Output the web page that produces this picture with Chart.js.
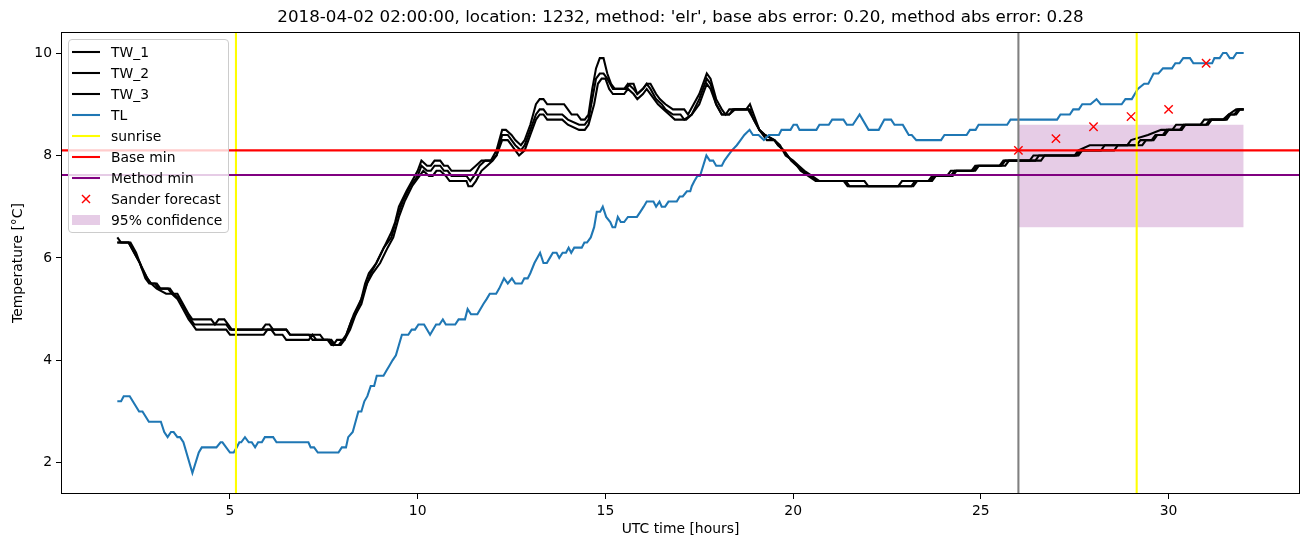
<!DOCTYPE html>
<html><head><meta charset="utf-8">
<script src="https://cdn.jsdelivr.net/npm/chart.js@4"></script>
<style>
html,body{margin:0;padding:0;background:#fff;}
#wrap{position:relative;width:1310px;height:547px;}
canvas{display:block;}
#legend{position:absolute;left:68px;top:39px;width:159px;padding:1px 0 2px 0;background:rgba(255,255,255,0.8);border:1px solid #cccccc;border-radius:4px;font-family:"DejaVu Sans";font-size:13.9px;color:#000;}
.item{height:21px;display:flex;align-items:center;white-space:nowrap;}
.item svg{margin-left:3px;margin-right:11px;flex:none;}
</style>
</head><body>
<div id="wrap">
<canvas id="c" width="1310" height="547"></canvas>
<div id="legend"></div>
</div>
<script>
const titleText = "2018-04-02 02:00:00, location: 1232, method: 'elr', base abs error: 0.20, method abs error: 0.28";
const xTicks = [5, 10, 15, 20, 25, 30];
const yTicks = [2, 4, 6, 8, 10];

const tw1 = [[2.0,6.4],[2.1,6.3],[2.3,6.3],[2.45,6.1],[2.6,5.9],[2.75,5.6],[2.85,5.5],[3.0,5.5],[3.1,5.4],[3.35,5.4],[3.45,5.3],[3.6,5.3],[3.75,5.1],[3.9,4.9],[4.0,4.8],[4.5,4.8],[4.6,4.7],[4.7,4.8],[4.85,4.8],[4.95,4.7],[5.05,4.6],[5.85,4.6],[5.95,4.7],[6.05,4.7],[6.15,4.6],[6.5,4.6],[6.6,4.5],[7.4,4.5],[7.5,4.4],[7.7,4.4],[7.8,4.3],[7.9,4.3],[8.0,4.4],[8.1,4.5],[8.25,4.8],[8.35,4.9],[8.5,5.2],[8.6,5.4],[8.75,5.7],[8.9,5.9],[9.1,6.2],[9.3,6.5],[9.4,6.7],[9.5,7.0],[9.7,7.3],[9.85,7.5],[10.0,7.7],[10.1,7.9],[10.25,7.8],[10.35,7.8],[10.45,7.9],[10.6,7.9],[10.7,7.8],[10.8,7.8],[10.9,7.7],[11.4,7.7],[11.55,7.8],[11.7,7.9],[11.95,7.9],[12.1,8.1],[12.25,8.5],[12.35,8.5],[12.5,8.4],[12.6,8.3],[12.75,8.2],[12.85,8.3],[13.0,8.6],[13.15,9.0],[13.25,9.1],[13.35,9.1],[13.45,9.0],[13.9,9.0],[14.0,8.9],[14.1,8.8],[14.25,8.8],[14.35,8.7],[14.45,8.7],[14.55,8.8],[14.65,9.3],[14.75,9.7],[14.85,9.9],[14.95,9.9],[15.05,9.6],[15.15,9.4],[15.25,9.3],[15.55,9.3],[15.65,9.4],[15.75,9.4],[15.85,9.2],[16.0,9.3],[16.1,9.4],[16.2,9.4],[16.35,9.2],[16.45,9.1],[16.6,9.0],[16.8,8.9],[17.1,8.9],[17.2,8.8],[17.35,9.0],[17.5,9.2],[17.6,9.4],[17.7,9.6],[17.8,9.5],[17.95,9.1],[18.1,8.9],[18.2,8.8],[18.3,8.9],[18.75,8.9],[18.85,9.0],[18.95,8.8],[19.1,8.5],[19.25,8.4],[19.5,8.3],[19.6,8.2],[19.75,8.1],[19.95,7.9],[20.1,7.8],[20.2,7.7],[20.4,7.6],[20.6,7.5],[21.35,7.5],[21.45,7.4],[22.8,7.4],[22.9,7.5],[23.6,7.5],[23.7,7.6],[24.1,7.6],[24.2,7.7],[24.75,7.7],[24.85,7.8],[25.5,7.8],[25.6,7.9],[26.3,7.9],[26.4,8.0],[27.5,8.0],[27.6,8.1],[27.9,8.2],[28.9,8.2],[29.0,8.3],[29.45,8.4],[29.8,8.5],[30.1,8.5],[30.2,8.6],[30.85,8.6],[30.95,8.7],[31.45,8.7],[31.6,8.8],[31.8,8.9],[32.0,8.9]];

const tw2 = [[2.0,6.3],[2.3,6.3],[2.45,6.1],[2.6,5.9],[2.8,5.6],[2.9,5.5],[3.05,5.5],[3.15,5.4],[3.4,5.4],[3.5,5.3],[3.65,5.2],[3.8,5.0],[3.95,4.8],[4.05,4.7],[4.9,4.7],[5.0,4.6],[6.5,4.6],[6.6,4.5],[7.1,4.5],[7.2,4.4],[7.65,4.4],[7.75,4.3],[7.85,4.4],[8.05,4.4],[8.15,4.6],[8.3,4.9],[8.5,5.2],[8.6,5.5],[8.7,5.7],[8.9,5.9],[9.1,6.2],[9.3,6.4],[9.45,6.8],[9.6,7.1],[9.8,7.4],[10.0,7.6],[10.1,7.8],[10.25,7.7],[10.35,7.7],[10.45,7.8],[10.6,7.8],[10.7,7.7],[10.8,7.7],[10.9,7.6],[11.3,7.6],[11.4,7.5],[11.5,7.6],[11.65,7.8],[11.8,7.9],[11.95,7.9],[12.1,8.0],[12.25,8.4],[12.4,8.4],[12.5,8.3],[12.6,8.2],[12.75,8.1],[12.85,8.2],[13.0,8.5],[13.15,8.8],[13.25,8.9],[13.35,8.9],[13.45,8.8],[13.85,8.8],[14.0,8.7],[14.3,8.6],[14.45,8.6],[14.55,8.7],[14.65,9.1],[14.75,9.5],[14.85,9.6],[14.95,9.6],[15.05,9.5],[15.2,9.3],[15.5,9.3],[15.6,9.4],[15.75,9.3],[15.85,9.2],[16.0,9.3],[16.1,9.4],[16.2,9.3],[16.35,9.1],[16.5,9.0],[16.6,8.9],[16.8,8.8],[17.0,8.8],[17.1,8.7],[17.3,8.8],[17.5,9.1],[17.6,9.3],[17.7,9.5],[17.8,9.4],[17.95,9.0],[18.1,8.8],[18.3,8.8],[18.4,8.9],[18.85,8.9],[18.95,8.7],[19.1,8.5],[19.25,8.4],[19.5,8.3],[19.6,8.2],[19.75,8.1],[19.95,7.9],[20.1,7.8],[20.25,7.7],[20.45,7.6],[20.65,7.5],[21.4,7.5],[21.5,7.4],[23.15,7.4],[23.25,7.5],[23.65,7.5],[23.75,7.6],[24.2,7.6],[24.3,7.7],[24.8,7.7],[24.9,7.8],[25.55,7.8],[25.65,7.9],[26.45,7.9],[26.55,8.0],[27.55,8.0],[27.65,8.1],[28.2,8.1],[28.3,8.2],[29.15,8.2],[29.25,8.3],[29.55,8.3],[29.65,8.4],[29.85,8.4],[29.95,8.5],[30.3,8.5],[30.4,8.6],[31.0,8.6],[31.1,8.7],[31.5,8.7],[31.6,8.8],[31.75,8.8],[31.85,8.9],[32.0,8.9]];

const tw3 = [[2.0,6.3],[2.35,6.3],[2.5,6.1],[2.65,5.8],[2.8,5.6],[2.9,5.5],[3.05,5.4],[3.3,5.3],[3.45,5.3],[3.6,5.2],[3.75,5.0],[3.9,4.8],[4.0,4.7],[4.1,4.6],[4.9,4.6],[5.0,4.5],[5.9,4.5],[6.0,4.6],[6.1,4.6],[6.2,4.5],[6.4,4.5],[6.5,4.4],[7.1,4.4],[7.2,4.5],[7.3,4.4],[7.6,4.4],[7.7,4.3],[7.95,4.3],[8.05,4.4],[8.2,4.6],[8.35,4.9],[8.5,5.1],[8.65,5.5],[8.8,5.7],[9.0,5.9],[9.2,6.2],[9.35,6.4],[9.5,6.8],[9.65,7.1],[9.85,7.4],[10.05,7.6],[10.15,7.7],[10.3,7.6],[10.4,7.6],[10.5,7.7],[10.6,7.7],[10.75,7.6],[10.85,7.5],[11.3,7.5],[11.35,7.4],[11.45,7.4],[11.55,7.5],[11.7,7.7],[11.85,7.8],[12.0,7.9],[12.1,8.0],[12.25,8.3],[12.4,8.3],[12.5,8.2],[12.6,8.1],[12.7,8.0],[12.85,8.1],[13.0,8.4],[13.15,8.7],[13.25,8.8],[13.35,8.8],[13.45,8.7],[13.85,8.7],[14.0,8.6],[14.3,8.5],[14.45,8.5],[14.55,8.6],[14.7,9.0],[14.8,9.4],[14.9,9.5],[15.0,9.5],[15.1,9.3],[15.2,9.2],[15.5,9.2],[15.6,9.3],[15.75,9.2],[15.85,9.1],[16.0,9.2],[16.1,9.3],[16.2,9.2],[16.4,9.0],[16.55,8.9],[16.7,8.8],[16.85,8.7],[17.15,8.7],[17.3,8.8],[17.5,9.0],[17.6,9.2],[17.7,9.4],[17.8,9.3],[17.95,9.0],[18.1,8.8],[18.3,8.8],[18.45,8.9],[18.8,8.9],[18.95,8.7],[19.1,8.5],[19.3,8.3],[19.5,8.3],[19.65,8.2],[19.8,8.0],[20.0,7.9],[20.15,7.8],[20.3,7.7],[20.5,7.6],[20.7,7.5],[21.9,7.5],[22.0,7.4],[23.2,7.4],[23.3,7.5],[23.7,7.5],[23.8,7.6],[24.25,7.6],[24.35,7.7],[24.85,7.7],[24.95,7.8],[25.65,7.8],[25.75,7.9],[26.6,7.9],[26.7,8.0],[27.6,8.0],[27.7,8.1],[28.55,8.1],[28.65,8.2],[29.3,8.2],[29.4,8.3],[29.6,8.3],[29.7,8.4],[29.9,8.4],[30.0,8.5],[30.35,8.5],[30.45,8.6],[31.05,8.6],[31.15,8.7],[31.55,8.7],[31.65,8.8],[31.8,8.8],[31.9,8.9],[32.0,8.9]];

const tl = [[2.0,3.2],[2.1,3.2],[2.17,3.3],[2.33,3.3],[2.58,3.0],[2.67,3.0],[2.84,2.8],[3.16,2.8],[3.25,2.6],[3.34,2.5],[3.43,2.6],[3.5,2.6],[3.6,2.5],[3.67,2.5],[3.76,2.4],[4.0,1.8],[4.17,2.2],[4.25,2.3],[4.64,2.3],[4.75,2.4],[4.8,2.4],[5.0,2.2],[5.1,2.2],[5.18,2.3],[5.25,2.4],[5.3,2.4],[5.4,2.5],[5.5,2.4],[5.58,2.4],[5.67,2.3],[5.75,2.4],[5.85,2.4],[5.93,2.5],[6.15,2.5],[6.24,2.4],[7.09,2.4],[7.15,2.3],[7.24,2.3],[7.34,2.2],[7.89,2.2],[7.98,2.3],[8.09,2.3],[8.15,2.5],[8.27,2.6],[8.42,3.0],[8.5,3.0],[8.58,3.2],[8.66,3.3],[8.75,3.5],[8.84,3.5],[8.91,3.7],[9.09,3.7],[9.17,3.8],[9.25,3.9],[9.33,4.0],[9.42,4.1],[9.5,4.3],[9.58,4.5],[9.75,4.5],[9.84,4.6],[9.93,4.6],[10.02,4.7],[10.17,4.7],[10.33,4.5],[10.49,4.7],[10.58,4.7],[10.67,4.8],[10.75,4.7],[11.0,4.7],[11.09,4.8],[11.26,4.8],[11.33,5.0],[11.42,4.9],[11.59,4.9],[11.75,5.1],[11.84,5.2],[11.92,5.3],[12.09,5.3],[12.17,5.4],[12.3,5.6],[12.4,5.5],[12.51,5.6],[12.6,5.5],[12.77,5.5],[12.84,5.6],[12.93,5.6],[13.0,5.7],[13.11,5.9],[13.26,6.1],[13.35,5.9],[13.44,5.9],[13.52,6.0],[13.6,6.1],[13.7,6.1],[13.77,6.0],[13.86,6.1],[13.95,6.1],[14.02,6.2],[14.09,6.1],[14.17,6.2],[14.37,6.2],[14.44,6.3],[14.51,6.3],[14.61,6.4],[14.7,6.6],[14.77,6.9],[14.86,6.9],[14.93,7.0],[15.02,6.8],[15.13,6.7],[15.19,6.6],[15.26,6.6],[15.33,6.8],[15.41,6.7],[15.5,6.7],[15.6,6.8],[15.84,6.8],[15.93,6.9],[16.02,7.0],[16.1,7.1],[16.28,7.1],[16.35,7.0],[16.44,7.1],[16.5,7.0],[16.59,7.0],[16.68,7.1],[16.9,7.1],[16.98,7.2],[17.06,7.2],[17.17,7.3],[17.26,7.3],[17.3,7.4],[17.37,7.5],[17.45,7.6],[17.52,7.6],[17.69,8.0],[17.78,7.9],[17.87,7.9],[17.95,7.8],[18.1,7.8],[18.17,7.9],[18.27,8.0],[18.37,8.1],[18.5,8.2],[18.6,8.3],[18.7,8.4],[18.84,8.5],[18.93,8.4],[19.08,8.4],[19.22,8.3],[19.35,8.4],[19.62,8.4],[19.69,8.5],[19.93,8.5],[20.01,8.6],[20.1,8.6],[20.17,8.5],[20.62,8.5],[20.7,8.6],[20.95,8.6],[21.04,8.7],[21.34,8.7],[21.43,8.6],[21.59,8.6],[21.77,8.8],[22.01,8.5],[22.28,8.5],[22.43,8.7],[22.61,8.7],[22.7,8.6],[22.92,8.6],[23.0,8.5],[23.08,8.4],[23.16,8.4],[23.28,8.3],[23.94,8.3],[24.03,8.4],[24.62,8.4],[24.71,8.5],[24.86,8.5],[24.94,8.6],[25.7,8.6],[25.79,8.7],[27.03,8.7],[27.12,8.8],[27.37,8.8],[27.46,8.9],[27.61,8.9],[27.7,9.0],[27.92,9.0],[28.08,9.1],[28.19,9.0],[28.75,9.0],[28.85,9.1],[29.02,9.1],[29.1,9.2],[29.18,9.3],[29.35,9.4],[29.46,9.4],[29.53,9.5],[29.6,9.6],[29.73,9.6],[29.85,9.7],[30.09,9.7],[30.18,9.8],[30.29,9.8],[30.39,9.9],[30.57,9.9],[30.66,9.8],[31.16,9.8],[31.22,9.9],[31.36,9.9],[31.45,10.0],[31.54,10.0],[31.63,9.9],[31.72,9.9],[31.81,10.0],[32.0,10.0]];

const sunriseTimes = [5.16, 29.15];
const nowTime = 26.0;
const baseMin = 8.1;
const methodMin = 7.62;
const forecastTimes = [26, 27, 28, 29, 30, 31];
const forecastValues = [8.1, 8.33, 8.56, 8.76, 8.9, 9.8];
const confTimes = [26, 32];
const confLow = 6.6;
const confHigh = 8.6;

const xMin = 0.5, xMax = 33.5, yMin = 1.39, yMax = 10.41;
const FONT = "DejaVu Sans";
const LW = 2.08;

const pts = arr => arr.map(p => ({x: p[0], y: p[1]}));
const lineDs = (label, data, color, order, extra) => Object.assign({
  label, data, borderColor: color, backgroundColor: color, borderWidth: LW,
  pointRadius: 0, fill: false, tension: 0, order
}, extra || {});

const datasets = [];
datasets.push(lineDs('95% confidence', confTimes.map(t => ({x: t, y: confHigh})), 'rgba(128,0,128,0)', 20,
  {fill: {value: confLow}, backgroundColor: 'rgba(128,0,128,0.2)', borderWidth: 0.01}));
datasets.push(lineDs('TW_1', pts(tw1), '#000000', 10));
datasets.push(lineDs('TW_2', pts(tw2), '#000000', 9));
datasets.push(lineDs('TW_3', pts(tw3), '#000000', 8));
datasets.push(lineDs('TL', pts(tl), '#1f77b4', 7));
sunriseTimes.forEach(t => datasets.push(lineDs('sunrise', [{x: t, y: yMin}, {x: t, y: yMax}], '#ffff00', 6)));
datasets.push(lineDs('now', [{x: nowTime, y: yMin}, {x: nowTime, y: yMax}], '#808080', 6));
datasets.push(lineDs('Base min', [{x: xMin, y: baseMin}, {x: xMax, y: baseMin}], '#ff0000', 5));
datasets.push(lineDs('Method min', [{x: xMin, y: methodMin}, {x: xMax, y: methodMin}], '#800080', 4));
datasets.push({label: 'Sander forecast', data: forecastTimes.map((t, i) => ({x: t, y: forecastValues[i]})),
  showLine: false, pointStyle: 'crossRot', pointRadius: 5.9, pointBorderWidth: 1.4,
  borderColor: '#ff0000', backgroundColor: '#ff0000', order: 1});

// axes box (matplotlib spines)
const frame = {
  id: 'frame',
  afterDraw(chart) {
    const {ctx, chartArea: a} = chart;
    ctx.save();
    ctx.setLineDash([]);
    ctx.strokeStyle = '#000'; ctx.lineWidth = 1;
    ctx.strokeRect(Math.round(a.left) + 0.5, Math.round(a.top) + 0.5, Math.round(a.right - a.left) - 1, Math.round(a.bottom - a.top) - 1);
    ctx.restore();
  }
};

new Chart(document.getElementById('c'), {
  type: 'line',
  data: {datasets},
  plugins: [frame],
  options: {
    responsive: false, animation: false, devicePixelRatio: 1,
    layout: {padding: {left: 0, right: 10, top: 0, bottom: 0}},
    plugins: {
      legend: {display: false}, tooltip: {enabled: false},
      title: {display: true, fullSize: false, text: titleText, color: '#000', font: {family: FONT, size: 16.7, weight: 'normal'}, padding: {top: 8, bottom: 4}}
    },
    scales: {
      x: {
        type: 'linear', min: xMin, max: xMax,
        afterBuildTicks: s => { s.ticks = xTicks.map(v => ({value: v})); },
        afterFit: s => { s.height = 53; },
        ticks: {color: '#000', font: {family: FONT, size: 13.9}, padding: 4, maxRotation: 0, autoSkip: false},
        grid: {drawOnChartArea: false, color: '#000', tickLength: 5, tickWidth: 1},
        border: {display: false},
        title: {display: true, text: 'UTC time [hours]', color: '#000', font: {family: FONT, size: 13.9}, padding: {top: 2, bottom: 9}}
      },
      y: {
        type: 'linear', min: yMin, max: yMax,
        afterBuildTicks: s => { s.ticks = yTicks.map(v => ({value: v})); },
        afterFit: s => { s.width = 61; },
        ticks: {color: '#000', font: {family: FONT, size: 13.9}, padding: 4, autoSkip: false},
        grid: {drawOnChartArea: false, color: '#000', tickLength: 5, tickWidth: 1},
        border: {display: false},
        title: {display: true, text: 'Temperature [°C]', color: '#000', font: {family: FONT, size: 13.9}, padding: {top: 10, bottom: 2}}
      }
    }
  }
});

// legend (HTML)
const legendItems = [
  {label: 'TW_1', type: 'line', color: '#000000'},
  {label: 'TW_2', type: 'line', color: '#000000'},
  {label: 'TW_3', type: 'line', color: '#000000'},
  {label: 'TL', type: 'line', color: '#1f77b4'},
  {label: 'sunrise', type: 'line', color: '#ffff00'},
  {label: 'Base min', type: 'line', color: '#ff0000'},
  {label: 'Method min', type: 'line', color: '#800080'},
  {label: 'Sander forecast', type: 'x', color: '#ff0000'},
  {label: '95% confidence', type: 'patch', color: 'rgba(128,0,128,0.2)'}
];
const lg = document.getElementById('legend');
legendItems.forEach(it => {
  const d = document.createElement('div');
  d.className = 'item';
  let svg = '';
  if (it.type === 'line') svg = `<svg width="28" height="14"><line x1="0" y1="7" x2="28" y2="7" stroke="${it.color}" stroke-width="2.08"/></svg>`;
  else if (it.type === 'x') svg = `<svg width="28" height="14"><line x1="10" y1="3" x2="18" y2="11" stroke="${it.color}" stroke-width="1.4"/><line x1="18" y1="3" x2="10" y2="11" stroke="${it.color}" stroke-width="1.4"/></svg>`;
  else svg = `<svg width="28" height="14"><rect x="0" y="2" width="28" height="10" fill="${it.color}"/></svg>`;
  d.innerHTML = svg + '<span>' + it.label + '</span>';
  lg.appendChild(d);
});
</script>
</body></html>
